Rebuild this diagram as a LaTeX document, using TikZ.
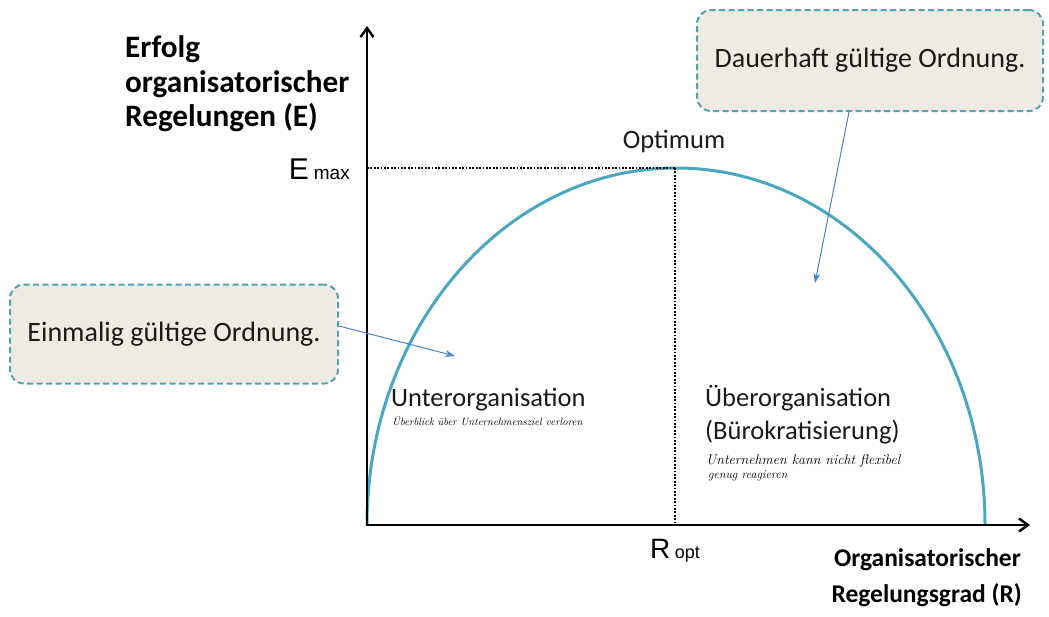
\documentclass[tikz,border=0pt]{standalone}
\usepackage{fontspec}
\setmainfont{Carlito}
\newfontfamily\arialf{Liberation Sans}
\newfontfamily\handf{Latin Modern Roman}
\usetikzlibrary{arrows.meta}
\definecolor{curvec}{HTML}{4BA6C0}
\definecolor{boxfill}{HTML}{EEEBE2}
\definecolor{boxline}{HTML}{4FA3B5}
\definecolor{callc}{HTML}{4A86C0}
\definecolor{txt}{HTML}{1A1A1A}
\tikzset{
  axisline/.style={line width=2.6pt, -{Straight Barb[length=9pt,width=13pt,line width=2.4pt]}},
  guide/.style={line width=1.8pt, dash pattern=on 1.8pt off 1.6pt},
  callbox/.style={draw=boxline, fill=boxfill, line width=2pt, dash pattern=on 6pt off 3.5pt,
    rounded corners=14pt, minimum width=328pt, minimum height=99pt, font=\fontsize{28}{32}\selectfont, text=txt},
  callarrow/.style={draw=callc, line width=1pt, -{Stealth[length=10pt,width=7pt]}},
  axtitle/.style={font=\bfseries\fontsize{31.2}{35}\selectfont, text=black, inner sep=0pt},
  xtitlestyle/.style={font=\bfseries\fontsize{25.5}{36}\selectfont, text=black, inner sep=0pt},
  regtext/.style={font=\fontsize{26.5}{33}\selectfont, text=txt, inner sep=0pt},
  handtext/.style={font=\handf\itshape\fontsize{10.5}{14}\selectfont, text=black, inner sep=0pt},
}
\begin{document}
\begin{tikzpicture}[x=1pt,y=-1pt]
\useasboundingbox (0,0) rectangle (1049,616);
\coordinate (O) at (367,525);
\coordinate (ytip) at (367,26);
\coordinate (xtip) at (1030,525);
\coordinate (top) at (675,168);
\coordinate (emaxp) at (367,168);
\coordinate (ropt) at (675,525);
% curve
\draw[curvec, line width=3pt] (O) arc[start angle=180, end angle=0, x radius=309pt, y radius=357pt];
% guides
\draw[guide] (emaxp) -- (top);
\draw[guide] (top) -- (ropt);
% axes
\draw[axisline] (O) -- (ytip);
\draw[axisline] ([xshift=-1.3pt]O) -- (xtip);
% axis labels
\node[axtitle, anchor=base west] (ytitle) at (125,57) {Erfolg};
\node[axtitle, anchor=base west] (ytitle2) at (125,92) {organisatorischer};
\node[axtitle, anchor=base west] (ytitle3) at (125,126) {Regelungen (E)};
\node[xtitlestyle, anchor=base east] (xtitle) at (1021,566) {Organisatorischer};
\node[xtitlestyle, anchor=base east] (xtitle2) at (1022,602) {Regelungsgrad (R)};
\node[anchor=base east, inner sep=0pt] (emax) at (350,179) {\arialf\fontsize{30}{34}\selectfont E\,\fontsize{19}{22}\selectfont max};
\node[anchor=base, inner sep=0pt] (roptl) at (675,558) {\arialf\fontsize{28}{32}\selectfont R\,\fontsize{18}{22}\selectfont opt};
\node[regtext, anchor=base] (optimum) at (674,148) {Optimum};
% region texts
\node[regtext, anchor=base west] (unter) at (391,406) {Unterorganisation};
\node[handtext, anchor=base west] (unterh) at (392,425) {Überblick über Unternehmensziel verloren};
\node[regtext, anchor=base west] (ueber) at (705,406) {Überorganisation};
\node[regtext, anchor=base west] (ueber2) at (705,439) {(Bürokratisierung)};
\node[handtext, anchor=base west, font=\handf\itshape\fontsize{14}{16}\selectfont] (ueberh) at (706,464) {Unternehmen kann nicht flexibel};
\node[handtext, anchor=base west, font=\handf\itshape\fontsize{12}{16}\selectfont] (ueberh2) at (708,478) {genug reagieren};
% callouts
\node[callbox] (einmal) at (174,334) {Einmalig gültige Ordnung.};
\node[callbox, minimum width=346pt, minimum height=101pt] (dauer) at (870,60.5) {Dauerhaft gültige Ordnung.};
\coordinate (a1) at (455,356);
\coordinate (a2) at (815,283);
\draw[callarrow] ([yshift=8pt]einmal.east) -- (a1);
\draw[callarrow] ([xshift=-21pt]dauer.south) -- (a2);
\end{tikzpicture}
\end{document}
